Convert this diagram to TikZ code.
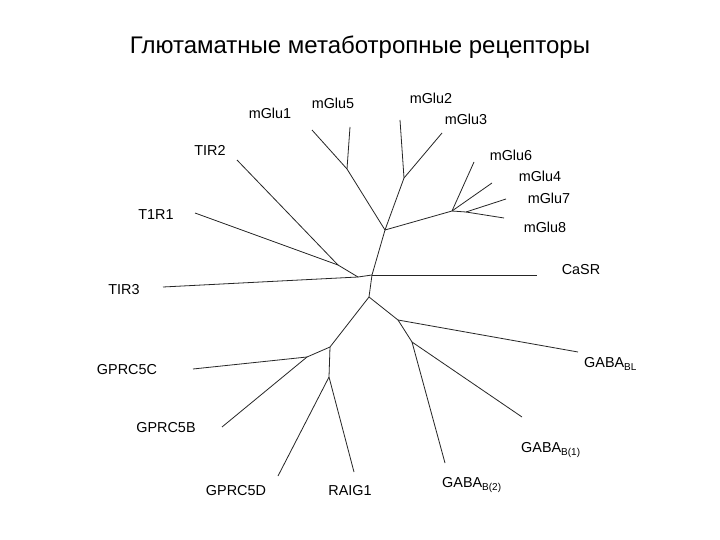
\documentclass[tikz,border=0pt]{standalone}
\usepackage{fontspec}
\setmainfont{Liberation Sans}
\begin{document}
\begin{tikzpicture}[x=1pt,y=-1pt,br/.style={draw=black!85,line width=0.8pt},
 lab/.style={font=\fontsize{14.4}{16}\selectfont,inner sep=0pt}]
\useasboundingbox[fill=white] (0,0) rectangle (720,540);
\node[font=\fontsize{24}{28}\selectfont] (title) at (360,47) {Глютаматные метаботропные рецепторы};
% internal nodes
\coordinate (r1) at (372,275);
\coordinate (r2) at (369,297);
\coordinate (l1) at (358,277);
\coordinate (l2) at (338,265);
\coordinate (m0) at (385,230);
\coordinate (m15) at (347,169);
\coordinate (m23) at (404,178);
\coordinate (m4) at (452,211);
\coordinate (m78) at (466,212);
\coordinate (g0) at (330,347);
\coordinate (g5c) at (307,357);
\coordinate (g1) at (329,377);
\coordinate (b0) at (398,320);
\coordinate (b1) at (412,342);
% leaves
\coordinate (e1) at (312,130); \coordinate (e5) at (350,127);
\coordinate (e2) at (400,120); \coordinate (e3) at (442,133);
\coordinate (e6) at (474,162); \coordinate (e4) at (492,183);
\coordinate (e7) at (506,199); \coordinate (e8) at (504,218);
\coordinate (eT2) at (237,160); \coordinate (eT1) at (195,213);
\coordinate (eT3) at (163,287); \coordinate (eCa) at (537,275);
\coordinate (eBL) at (578,352); \coordinate (eB1) at (522,417);
\coordinate (eB2) at (445,463); \coordinate (e5C) at (193,369);
\coordinate (e5B) at (222,427); \coordinate (e5D) at (278,476);
\coordinate (eR) at (354,472);
\draw[br] (r1)--(eCa); \draw[br] (r1)--(r2); \draw[br] (r1)--(l1);
\draw[br] (l1)--(eT3); \draw[br] (l1)--(l2)--(eT1); \draw[br] (l2)--(eT2);
\draw[br] (r1)--(m0); \draw[br] (m0)--(m15)--(e1); \draw[br] (m15)--(e5);
\draw[br] (m0)--(m23)--(e2); \draw[br] (m23)--(e3);
\draw[br] (m0)--(m4)--(e6); \draw[br] (m4)--(e4); \draw[br] (m4)--(m78)--(e7); \draw[br] (m78)--(e8);
\draw[br] (r2)--(g0)--(g5c)--(e5B); \draw[br] (g5c)--(e5C);
\draw[br] (g0)--(g1)--(e5D); \draw[br] (g1)--(eR);
\draw[br] (r2)--(b0)--(eBL); \draw[br] (b0)--(b1)--(eB1); \draw[br] (b1)--(eB2);
% labels
\node[lab] (n1) at (270,113) {mGlu1};
\node[lab] (n5) at (333,103) {mGlu5};
\node[lab] (n2) at (431,98) {mGlu2};
\node[lab] (n3) at (466,119) {mGlu3};
\node[lab] (n6) at (511,155) {mGlu6};
\node[lab] (n4) at (540,176) {mGlu4};
\node[lab] (n7) at (549,198) {mGlu7};
\node[lab] (n8) at (545,227) {mGlu8};
\node[lab] (nT2) at (210,150) {TIR2};
\node[lab] (nT1) at (156,215) {T1R1};
\node[lab] (nT3) at (124,290) {TIR3};
\node[lab] (nCa) at (581,270) {CaSR};
\node[lab,anchor=west] (nBL) at (584,364) {GABA\textsubscript{BL}};
\node[lab] (n5C) at (127,370) {GPRC5C};
\node[lab] (n5B) at (166,428) {GPRC5B};
\node[lab,anchor=west] (nB1) at (521,450) {GABA\textsubscript{B(1)}};
\node[lab] (n5D) at (236,491) {GPRC5D};
\node[lab] (nR) at (350,491) {RAIG1};
\node[lab,anchor=west] (nB2) at (442,485) {GABA\textsubscript{B(2)}};
\end{tikzpicture}
\end{document}
